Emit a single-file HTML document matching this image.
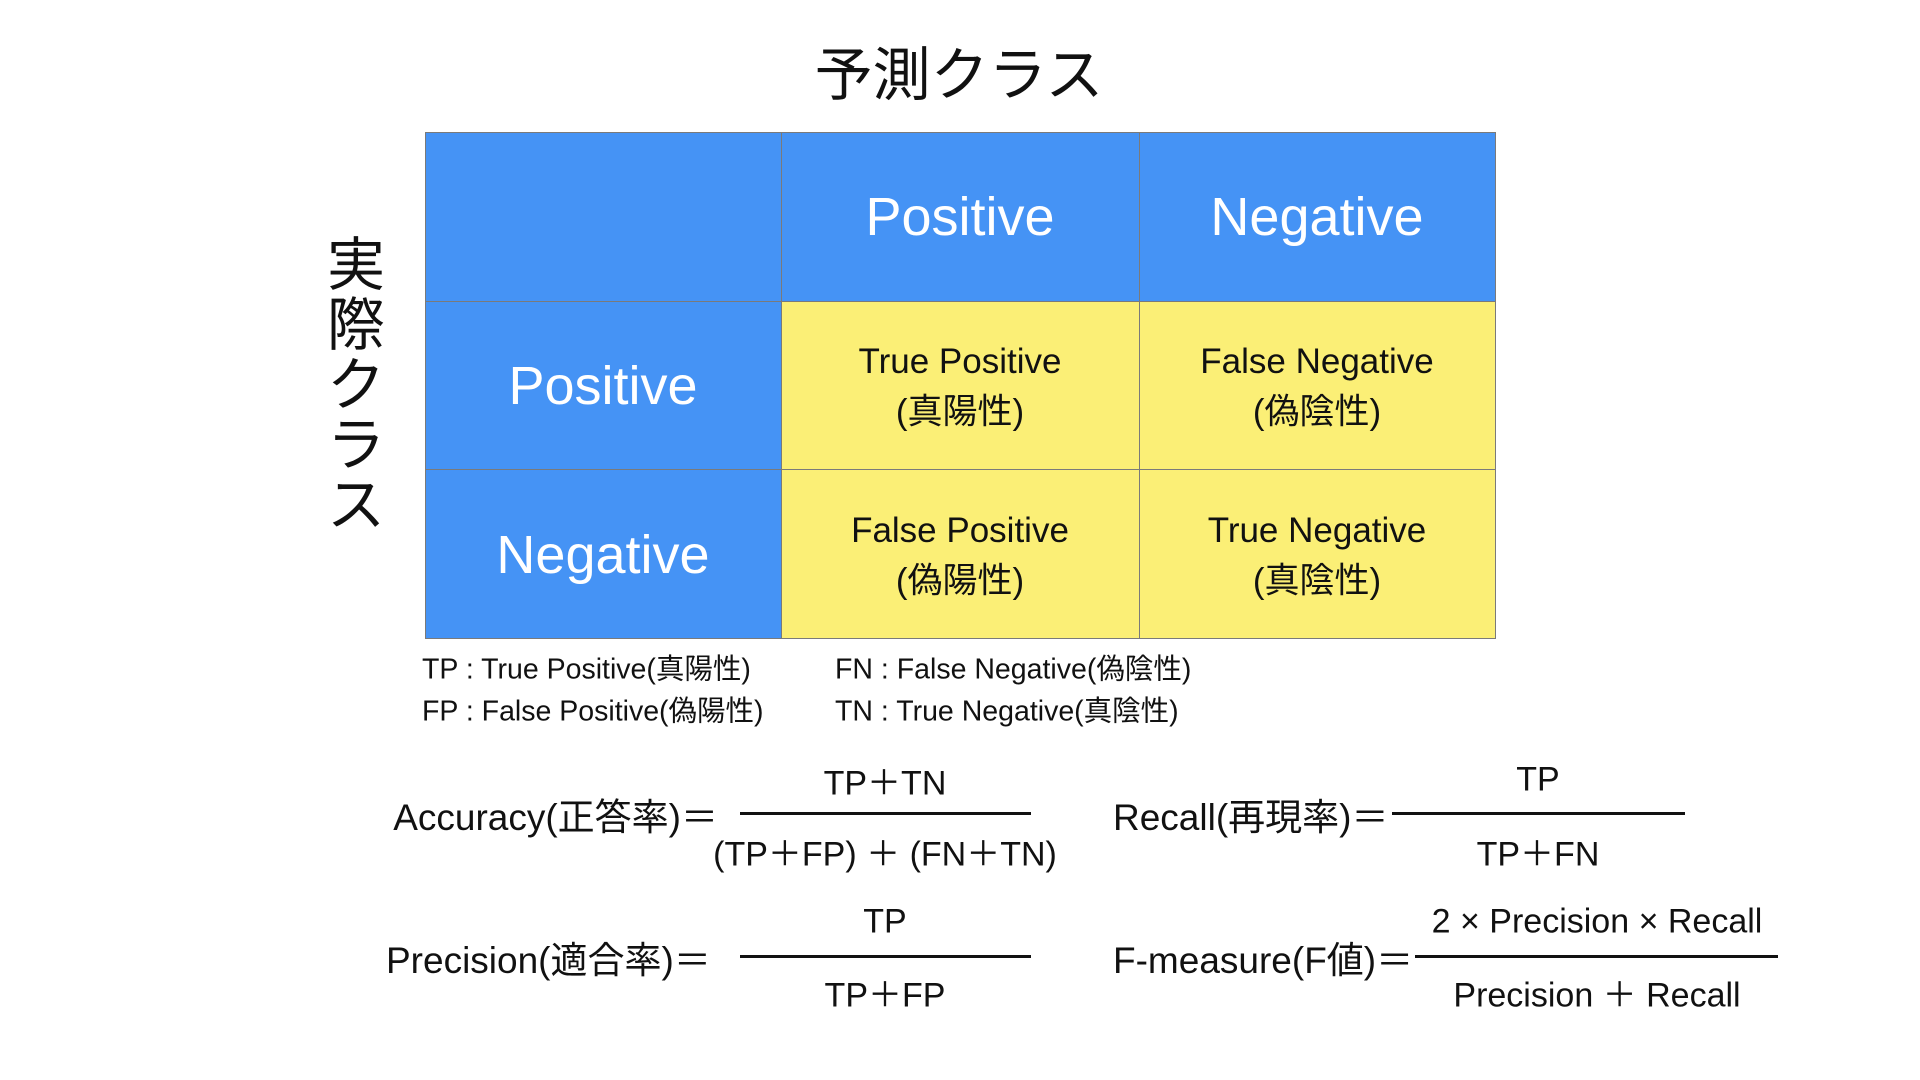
<!DOCTYPE html>
<html><head><meta charset="utf-8"><style>
body{margin:0;width:1920px;height:1080px;background:#fff;position:relative;overflow:hidden;font-family:"Liberation Sans","Noto Sans CJK JP",sans-serif;color:#111}
.a{position:absolute;white-space:nowrap}
.c{transform:translate(-50%,-50%)}
.l{transform:translate(0,-50%)}
.r{transform:translate(-100%,-50%)}
.cell{position:absolute;box-sizing:border-box;border:1px solid #7a7a7a}
.b{background:#4593f5}.y{background:#fbef76}
.w{color:#fff;font-size:54px}
.t{font-size:35px;color:#111}
.f{font-size:34px}
.g{font-size:37px}
.hr{position:absolute;height:3px;background:#111}
</style></head><body>
<div class="a c" style="left:959px;top:70px;font-size:58px">予測クラス</div>
<div class="a" style="left:326px;top:236px;width:60px;font-size:58px;line-height:60px;text-align:center;white-space:normal">実<br>際<br>ク<br>ラ<br>ス</div>

<div class="cell b" style="left:425px;top:132px;width:357px;height:170px"></div>
<div class="cell b" style="left:781px;top:132px;width:359px;height:170px"></div>
<div class="cell b" style="left:1139px;top:132px;width:357px;height:170px"></div>
<div class="cell b" style="left:425px;top:301px;width:357px;height:169px"></div>
<div class="cell y" style="left:781px;top:301px;width:359px;height:169px"></div>
<div class="cell y" style="left:1139px;top:301px;width:357px;height:169px"></div>
<div class="cell b" style="left:425px;top:469px;width:357px;height:170px"></div>
<div class="cell y" style="left:781px;top:469px;width:359px;height:170px"></div>
<div class="cell y" style="left:1139px;top:469px;width:357px;height:170px"></div>

<div class="a c w" style="left:960px;top:217px">Positive</div>
<div class="a c w" style="left:1317px;top:217px">Negative</div>
<div class="a c w" style="left:603px;top:386px">Positive</div>
<div class="a c w" style="left:603px;top:555px">Negative</div>

<div class="a c t" style="left:960px;top:362px">True Positive</div>
<div class="a c t" style="left:960px;top:409px">(真陽性)</div>
<div class="a c t" style="left:1317px;top:362px">False Negative</div>
<div class="a c t" style="left:1317px;top:409px">(偽陰性)</div>
<div class="a c t" style="left:960px;top:531px">False Positive</div>
<div class="a c t" style="left:960px;top:578px">(偽陽性)</div>
<div class="a c t" style="left:1317px;top:531px">True Negative</div>
<div class="a c t" style="left:1317px;top:578px">(真陰性)</div>

<div class="a l" style="left:422px;top:667px;font-size:28.5px">TP : True Positive(真陽性)</div>
<div class="a l" style="left:422px;top:709px;font-size:28.5px">FP : False Positive(偽陽性)</div>
<div class="a l" style="left:835px;top:667px;font-size:28.5px">FN : False Negative(偽陰性)</div>
<div class="a l" style="left:835px;top:709px;font-size:28.5px">TN : True Negative(真陰性)</div>

<div class="a r g" style="left:718px;top:814px">Accuracy(正答率)＝</div>
<div class="hr" style="left:740px;top:812px;width:291px"></div>
<div class="a c f" style="left:885px;top:780px">TP＋TN</div>
<div class="a c f" style="left:885px;top:851px">(TP＋FP) ＋ (FN＋TN)</div>

<div class="a l g" style="left:1113px;top:814px">Recall(再現率)＝</div>
<div class="hr" style="left:1392px;top:812px;width:293px"></div>
<div class="a c f" style="left:1538px;top:780px">TP</div>
<div class="a c f" style="left:1538px;top:851px">TP＋FN</div>

<div class="a l g" style="left:386px;top:957px">Precision(適合率)＝</div>
<div class="hr" style="left:740px;top:955px;width:291px"></div>
<div class="a c f" style="left:885px;top:922px">TP</div>
<div class="a c f" style="left:885px;top:992px">TP＋FP</div>

<div class="a l g" style="left:1113px;top:957px">F-measure(F値)＝</div>
<div class="hr" style="left:1415px;top:955px;width:363px"></div>
<div class="a c f" style="left:1597px;top:922px">2 × Precision × Recall</div>
<div class="a c f" style="left:1597px;top:992px">Precision ＋ Recall</div>
</body></html>
